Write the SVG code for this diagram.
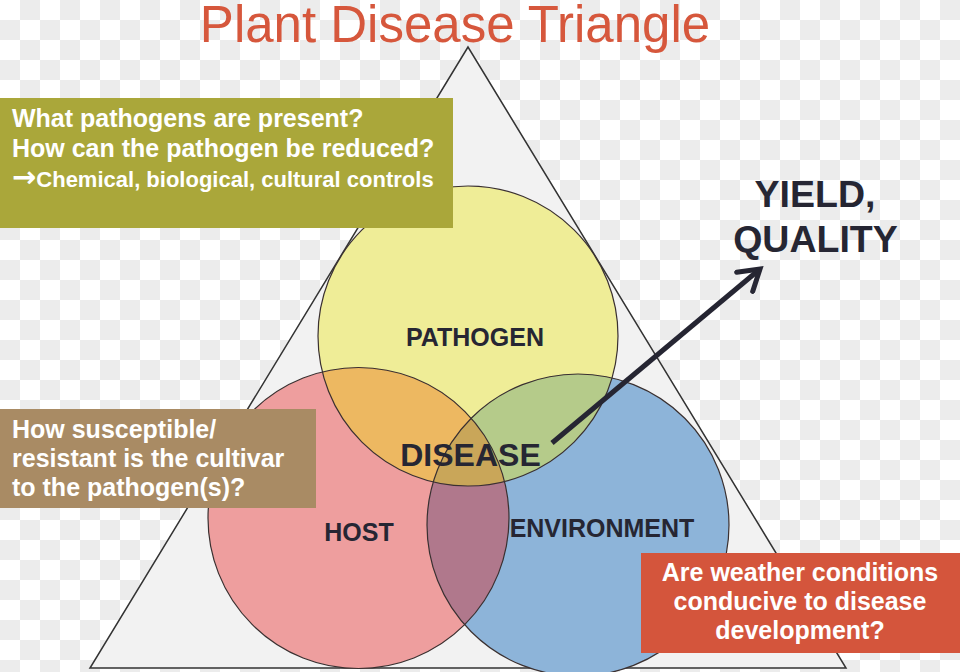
<svg xmlns="http://www.w3.org/2000/svg" width="960" height="672" viewBox="0 0 960 672">
<defs>
<pattern id="checker" width="40" height="40" patternUnits="userSpaceOnUse">
<rect width="40" height="40" fill="#ffffff"/>
<rect x="20" y="0" width="20" height="20" fill="#ececec"/>
<rect x="0" y="20" width="20" height="20" fill="#ececec"/>
</pattern>
<clipPath id="clipY"><circle cx="468" cy="336" r="150"/></clipPath>
<clipPath id="clipP"><circle cx="358.5" cy="518" r="150.5"/></clipPath>
<marker id="chev" viewBox="0 0 12 12" refX="9" refY="6" markerWidth="6" markerHeight="6" orient="auto" markerUnits="strokeWidth">
<path d="M1,1 L9,6 L1,11" fill="none" stroke="#262633" stroke-width="2" stroke-linecap="round" stroke-linejoin="miter"/>
</marker>
<style>
.ring{fill:none;stroke:#3a3030;stroke-width:1.2}
.lbl{font-family:"Liberation Sans",Arial,sans-serif;font-weight:bold;fill:#262633;text-anchor:middle}
.box{font-family:"Liberation Sans",Arial,sans-serif;font-weight:bold;fill:#ffffff}
</style>
</defs>
<rect width="960" height="672" fill="url(#checker)"/>
<text x="455" y="42" font-family="'Liberation Sans',Arial,sans-serif" font-size="51" fill="#d6573c" text-anchor="middle">Plant Disease Triangle</text>
<g id="triangle">
<polygon points="468,47 90,668 846,668" fill="#f2f2f2" stroke="#333333" stroke-width="1.5"/>
</g>
<g id="pathogen">
<circle cx="468" cy="336" r="150" fill="#efed97"/>
</g>
<g id="host">
<circle cx="358.5" cy="518" r="150.5" fill="#ee9e9e"/>
</g>
<g id="environment">
<circle cx="578" cy="525" r="151" fill="#8db4d9"/>
</g>
<g id="overlaps">
<circle cx="358.5" cy="518" r="150.5" fill="#edb861" clip-path="url(#clipY)"/>
<circle cx="578" cy="525" r="151" fill="#b5cb8a" clip-path="url(#clipY)"/>
<circle cx="578" cy="525" r="151" fill="#b0788c" clip-path="url(#clipP)"/>
<g clip-path="url(#clipY)"><circle cx="578" cy="525" r="151" fill="#c9a659" clip-path="url(#clipP)"/></g>
</g>
<g id="rings">
<circle class="ring" cx="468" cy="336" r="150"/>
<circle class="ring" cx="358.5" cy="518" r="150.5"/>
<circle class="ring" cx="578" cy="525" r="151"/>
</g>
<g id="labels">
<text class="lbl" x="475" y="346" font-size="25">PATHOGEN</text>
<text class="lbl" x="359" y="541" font-size="25">HOST</text>
<text class="lbl" x="602" y="537" font-size="25">ENVIRONMENT</text>
<text class="lbl" x="470.5" y="466" font-size="32">DISEASE</text>
</g>
<g id="connectors">
<line x1="552" y1="443" x2="760" y2="269" stroke="#262633" stroke-width="5" marker-end="url(#chev)"/>
</g>
<g id="yield">
<text class="lbl" x="815" y="207" font-size="37.5">YIELD,</text>
<text class="lbl" x="815.5" y="252" font-size="37.5">QUALITY</text>
</g>
<g id="box-pathogen">
<rect x="0" y="98" width="453" height="130" fill="#aaa73a"/>
<text class="box" x="12" y="127" font-size="25">What pathogens are present?</text>
<text class="box" x="12" y="157" font-size="25">How can the pathogen be reduced?</text>
<text class="box" x="12" y="187" font-size="22"><tspan font-family="'DejaVu Sans',sans-serif" font-weight="bold" font-size="29">→</tspan>Chemical, biological, cultural controls</text>
</g>
<g id="box-host">
<rect x="0" y="409" width="316" height="99" fill="#a98b64"/>
<text class="box" x="12" y="438" font-size="25">How susceptible/</text>
<text class="box" x="12" y="467" font-size="25">resistant is the cultivar</text>
<text class="box" x="12" y="496" font-size="25">to the pathogen(s)?</text>
</g>
<g id="box-environment">
<rect x="641" y="553" width="319" height="100" fill="#d4553c"/>
<text class="box" x="800" y="581" font-size="25" text-anchor="middle">Are weather conditions</text>
<text class="box" x="800" y="610" font-size="25" text-anchor="middle">conducive to disease</text>
<text class="box" x="800" y="639" font-size="25" text-anchor="middle">development?</text>
</g>
</svg>
